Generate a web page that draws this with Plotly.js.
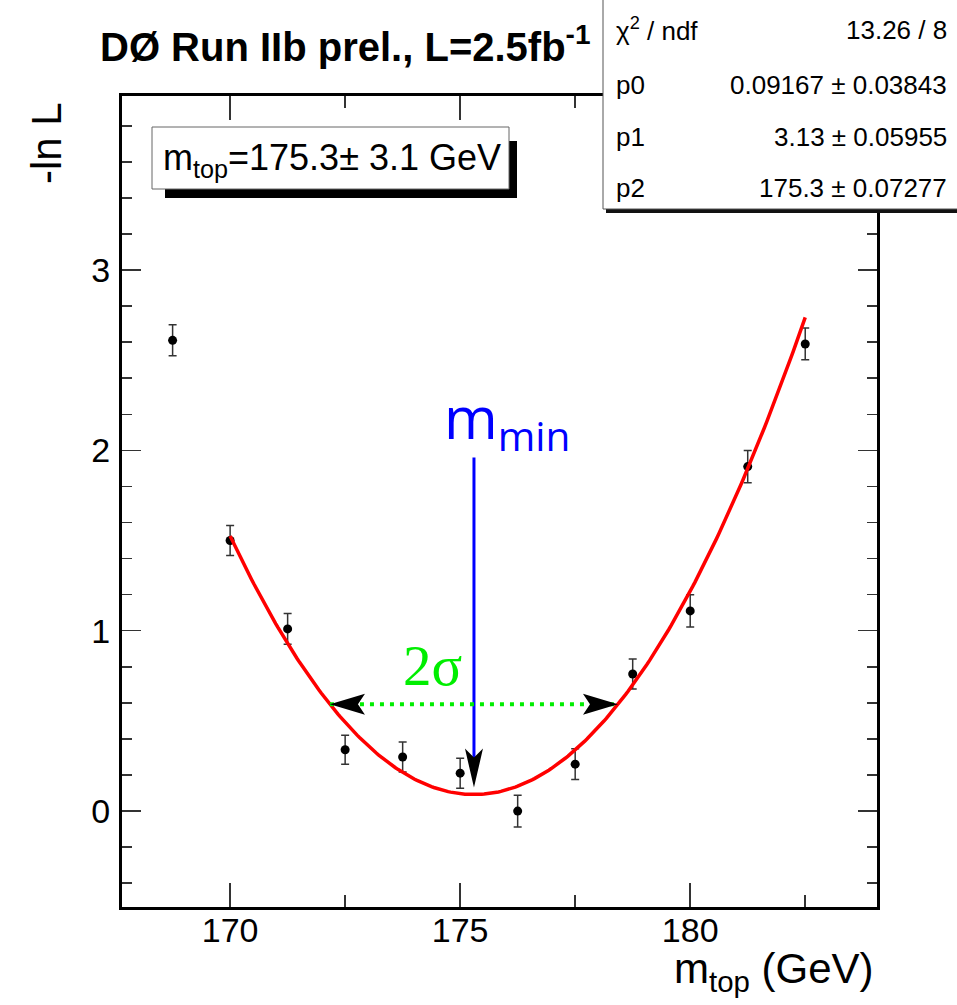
<!DOCTYPE html>
<html>
<head>
<meta charset="utf-8">
<script src="https://cdn.plot.ly/plotly-3.0.1.min.js"></script>
<style>html,body{margin:0;padding:0;background:#fff;}</style>
</head>
<body>
<div id="chart" style="width:957px;height:1005px;"></div>
<script>
// -ln L scan versus the top-quark mass hypothesis
const massPoints = [168.75, 170, 171.25, 172.5, 173.75, 175, 176.25, 177.5, 178.75, 180, 181.25, 182.5];
const negLogL    = [2.61, 1.50, 1.01, 0.34, 0.30, 0.21, 0.00, 0.26, 0.76, 1.11, 1.91, 2.59];
const negLogLErr = [0.086, 0.083, 0.085, 0.081, 0.083, 0.083, 0.088, 0.085, 0.083, 0.089, 0.089, 0.088];

// Parabola fit  p0 + (m - p2)^2 / (2 p1^2)
const fitNames  = ['p0', 'p1', 'p2'];
const fitValues = [0.09167, 3.13, 175.3];
const fitErrors = [0.03843, 0.05955, 0.07277];
const fitChi2 = 13.26;
const fitNdf = 8;
const fitRange = [170, 182.5];

// Axis ticks
const xTickVals = [170, 175, 180];
const yTickVals = [0, 1, 2, 3];

const FONT = 'Liberation Sans, Arial, Helvetica, sans-serif';

// Frame of the plotting area in page pixels
const W = 957, H = 1005, L = 122, R = 877, T = 96, B = 907;
const px = v => (v - L) / (R - L);
const py = v => (B - v) / (B - T);

const [p0, p1, p2] = fitValues;
const fitFn = m => p0 + (m - p2) * (m - p2) / (2 * p1 * p1);

const curveX = [], curveY = [];
const nSamples = 240;
for (let i = 0; i <= nSamples; i++) {
  const m = fitRange[0] + (fitRange[1] - fitRange[0]) * i / nSamples;
  curveX.push(m);
  curveY.push(fitFn(m));
}

const points = {
  x: massPoints, y: negLogL, type: 'scatter', mode: 'markers',
  marker: {color: '#000', size: 9},
  error_y: {type: 'data', array: negLogLErr, visible: true, color: '#333', thickness: 1.5, width: 4},
  hoverinfo: 'x+y'
};
const fitCurve = {
  x: curveX, y: curveY, type: 'scatter', mode: 'lines',
  line: {color: '#ff0000', width: 3.5}, hoverinfo: 'skip'
};

// Arrow geometry
const arrowTopY = 1.96, arrowTipY = 0.13;
const sigmaY = p0 + 0.5;
const sigmaLo = p2 - p1, sigmaHi = p2 + p1;

const shapes = [
  // m_min arrow
  {type: 'line', xref: 'x', yref: 'y', x0: p2, x1: p2, y0: arrowTopY, y1: arrowTipY + 0.12,
   line: {color: '#0000ff', width: 3}, layer: 'above'},
  {type: 'path', xref: 'x', yref: 'y', xsizemode: 'pixel', ysizemode: 'pixel',
   xanchor: p2, yanchor: arrowTipY, path: 'M0,0 L-9,39 L0,30 L9,39 Z',
   fillcolor: '#000', line: {width: 0}, layer: 'above'},
  // 2 sigma width
  {type: 'line', xref: 'x', yref: 'y', x0: sigmaLo, x1: sigmaHi, y0: sigmaY, y1: sigmaY,
   line: {color: '#00ee00', width: 4, dash: '4px,6px'}, layer: 'above'},
  {type: 'path', xref: 'x', yref: 'y', xsizemode: 'pixel', ysizemode: 'pixel',
   xanchor: sigmaLo, yanchor: sigmaY, path: 'M0,0 L35,10.5 L28,0 L35,-10.5 Z',
   fillcolor: '#000', line: {width: 0}, layer: 'above'},
  {type: 'path', xref: 'x', yref: 'y', xsizemode: 'pixel', ysizemode: 'pixel',
   xanchor: sigmaHi, yanchor: sigmaY, path: 'M0,0 L-35,10.5 L-28,0 L-35,-10.5 Z',
   fillcolor: '#000', line: {width: 0}, layer: 'above'},
  // result box with shadow
  {type: 'rect', xref: 'paper', yref: 'paper', x0: px(165), x1: px(517), y0: py(141), y1: py(198),
   fillcolor: '#000', line: {width: 0}, layer: 'above'},
  {type: 'rect', xref: 'paper', yref: 'paper', x0: px(152), x1: px(509), y0: py(127), y1: py(189),
   fillcolor: '#fff', line: {color: '#666', width: 1}, layer: 'above'},
  // fit statistics box with shadow
  {type: 'rect', xref: 'paper', yref: 'paper', x0: px(606), x1: px(962), y0: py(-5), y1: py(213),
   fillcolor: '#111', line: {width: 0}, layer: 'above'},
  {type: 'rect', xref: 'paper', yref: 'paper', x0: px(603), x1: px(958), y0: py(-5), y1: py(209),
   fillcolor: '#fff', line: {color: '#555', width: 1}, layer: 'above'}
];

const ann = (o) => Object.assign({xref: 'paper', yref: 'paper', showarrow: false,
  font: {family: FONT, size: 26, color: '#000'}}, o);

const statLabels = ['χ<sup>2</sup> / ndf'].concat(fitNames);
const statValues = [fitChi2 + ' / ' + fitNdf].concat(fitValues.map((v, i) => v + ' ± ' + fitErrors[i]));
const statRowsY = [30, 85, 137, 188];

const annotations = [];
statLabels.forEach((t, i) => {
  annotations.push(ann({text: t, x: px(614), y: py(statRowsY[i]), xanchor: 'left', yanchor: 'middle'}));
  annotations.push(ann({text: statValues[i], x: px(949), y: py(statRowsY[i]), xanchor: 'right', yanchor: 'middle'}));
});

annotations.push(ann({
  text: 'm<sub>top</sub>=' + p2 + '± ' + p1.toFixed(1) + ' GeV',
  x: px(161), y: py(160), xanchor: 'left', yanchor: 'middle',
  font: {family: FONT, size: 36, color: '#000'}
}));
annotations.push(ann({
  text: 'm<sub>min</sub>', x: px(507), y: py(420), xanchor: 'center', yanchor: 'middle',
  font: {family: 'Open Sans, sans-serif', size: 58, color: '#0000ff'}
}));
annotations.push(ann({
  text: '2σ', x: px(432), y: py(665), xanchor: 'center', yanchor: 'middle',
  font: {family: 'Liberation Serif, Times New Roman, serif', size: 57, color: '#00ee00'}
}));
// axis titles
annotations.push(ann({
  text: 'm<sub>top</sub> (GeV)', x: px(876), y: py(971), xanchor: 'right', yanchor: 'middle',
  font: {family: FONT, size: 42, color: '#000'}
}));
annotations.push(ann({
  text: '-ln L', x: px(46), y: py(143), xanchor: 'center', yanchor: 'middle', textangle: -90,
  font: {family: FONT, size: 42, color: '#000'}
}));

const axisCommon = {
  ticks: 'inside', tickwidth: 1.5, tickcolor: '#333',
  showline: true, linewidth: 3, linecolor: '#000', mirror: 'allticks',
  showgrid: false, zeroline: false,
  tickfont: {family: FONT, size: 34, color: '#000'}
};

const layout = {
  width: W, height: H,
  margin: {l: L, r: W - R, t: T, b: H - B, pad: 0},
  paper_bgcolor: '#fff', plot_bgcolor: '#fff',
  showlegend: false,
  title: {
    text: 'DØ Run IIb prel., L=2.5fb<sup>-1</sup>',
    xref: 'container', yref: 'container', x: 100 / W, xanchor: 'left',
    y: 1 - 47 / H, yanchor: 'middle',
    font: {family: FONT, size: 40, weight: 'bold', color: '#000'}
  },
  xaxis: Object.assign({}, axisCommon, {
    range: [167.65, 184.06], tickmode: 'array', tickvals: xTickVals, ticktext: xTickVals.map(String),
    ticklen: 24, ticklabelstandoff: -9,
    minor: {tickmode: 'linear', tick0: 170, dtick: 2.5, ticks: 'inside', ticklen: 12, tickwidth: 1.5, tickcolor: '#333'}
  }),
  yaxis: Object.assign({}, axisCommon, {
    range: [-0.532, 3.965], tickmode: 'array', tickvals: yTickVals, ticktext: yTickVals.map(String),
    ticklen: 19, ticklabelstandoff: 2,
    minor: {tickmode: 'linear', tick0: 0, dtick: 0.2, ticks: 'inside', ticklen: 10, tickwidth: 1.5, tickcolor: '#333'}
  }),
  shapes: shapes,
  annotations: annotations
};

Plotly.newPlot('chart', [points, fitCurve], layout, {displayModeBar: false, staticPlot: true});
</script>
</body>
</html>
